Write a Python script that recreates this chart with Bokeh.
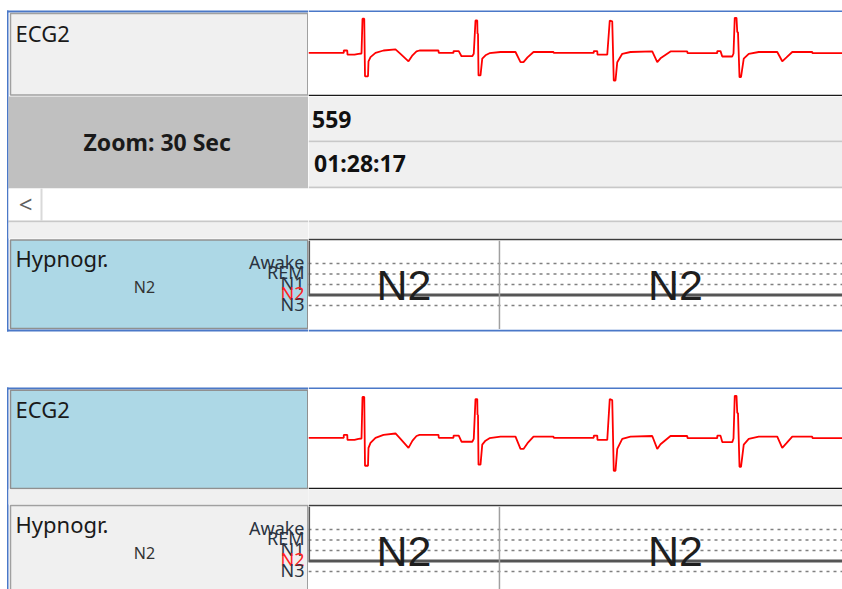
from bokeh.plotting import figure
from bokeh.layouts import row, column
from bokeh.models import Range1d, Span
from bokeh.core.properties import value
from bokeh.embed import file_html
from bokeh.resources import INLINE

# ---------------- data ----------------
channel_name = "ECG2"
hyp_name = "Hypnogr."
zoom_label = "Zoom: 30 Sec"
current_epoch = "559"
current_time = "01:28:17"
current_stage = "N2"

stage_names = ["Awake", "REM", "N1", "N2", "N3"]
stage_values = [4, 3, 2, 1, 0]

epoch_numbers = [558, 559]
epoch_stages = ["N2", "N2"]
epoch_length_s = 30
window_start_s = 16729.45
window_length_s = 30

ecg_time_ms = [
    0, 282, 282, 310, 312, 368, 400, 424, 432, 446, 452, 476, 480, 496, 536, 600, 696, 736, 800, 832, 864, 888, 1040, 1042,
    1160, 1160, 1202, 1224, 1310, 1322, 1336, 1350, 1352, 1356, 1360, 1376, 1390, 1416, 1448, 1536, 1656, 1696, 1720, 1752, 1800, 1960, 1962,
    2282, 2282, 2310, 2312, 2390, 2410, 2430, 2442, 2456, 2470, 2510, 2576, 2750, 2790, 2816, 2896, 3030, 3032,
    3270, 3270, 3296, 3310, 3390, 3400, 3410, 3424, 3430, 3436, 3448, 3460, 3482, 3522, 3602, 3750, 3790, 3824, 3870, 4030, 4032, 4272]
ecg_mv = [
    0, 0, 0.08, 0.08, -0.06, -0.06, -0.03, -0.02, 1.14, 1.14, -0.78, -0.78, -0.28, -0.14, 0.0, 0.08, 0.12, -0.03, -0.28, -0.08, 0.05, 0.08, 0.08, 0.0,
    0, 0.06, 0.06, -0.11, -0.11, -0.03, 1.08, 1.08, 0.64, 0.64, -0.75, -0.75, -0.19, -0.08, -0.01, 0.03, 0.03, -0.31, -0.31, -0.15, 0.03, 0.03, 0,
    0, 0.06, 0.06, -0.06, -0.06, 1.08, 1.05, -0.92, -0.92, -0.31, -0.03, 0.03, 0.05, -0.31, -0.18, 0.05, 0.05, -0.01,
    -0.01, 0.06, 0.06, -0.12, -0.12, -0.02, 1.17, 1.17, 0.69, 0.69, -0.81, -0.81, -0.19, -0.03, 0.03, 0.03, -0.28, -0.15, 0.03, 0.03, -0.01, -0.01]
ecg_view_ms = (0, 4272)
ecg_view_mv = (-1.387, 1.347)

# ---------------- styles ----------------
BLUE = "#4a78c8"
PANEL = "#f0f0f0"
ZOOMGREY = "#c0c0c0"
SEP = "#c8c8c8"
LIGHTBLUE = "#add8e6"
TEXT = "#1a1a1a"
FONT = value("Noto Sans")
TOTAL_W = 842
TOTAL_H = 589
LEFT_W = 308
RIGHT_W = TOTAL_W - LEFT_W
FULL_VIEW_W = 543
STAGE_TOP = 23.0
STAGE_STEP = 10.5
MAXV = max(stage_values)
level = dict(zip(stage_names, stage_values))


def base(w, h, xr, yr, bg="white", border="white", **kw):
    p = figure(width=w, height=h, x_range=Range1d(*xr), y_range=Range1d(*yr),
               toolbar_location=None, output_backend="svg", title=None,
               x_axis_type=None, y_axis_type=None,
               min_border_left=kw.get("l", 0), min_border_right=kw.get("r", 0),
               min_border_top=kw.get("t", 0), min_border_bottom=kw.get("b", 0),
               background_fill_color=bg, border_fill_color=border,
               outline_line_color=None)
    p.grid.visible = False
    return p


def chrome(w, h, bg="white"):
    return base(w, h, (0, w), (h, 0), bg=bg, border=bg)


def txt(p, x, y, s, size, align="left", color=TEXT, style="normal", font=FONT):
    p.text(x=[x], y=[y], text=[s], text_font=font, text_font_size=size,
           text_align=align, text_baseline="middle", text_color=color,
           text_font_style=style)


def box(p, l, r, t, b, fill, line=None, lw=1.5):
    p.quad(left=[l], right=[r], top=[t], bottom=[b], fill_color=fill,
           line_color=line, line_width=lw)


def stage_labels(p, frame_top):
    for name, v in zip(stage_names, stage_values):
        y = frame_top + STAGE_TOP + (MAXV - v) * STAGE_STEP - 1.8
        col = "#ff2020" if name == current_stage else "#2a3340"
        txt(p, 304, y, name, "18px", align="right", color=col)


# ---------------- left column ----------------
L = chrome(LEFT_W, TOTAL_H)
box(L, 6.5, LEFT_W, 10, 12, BLUE)
box(L, 6.5, 8, 10, 331, BLUE)
box(L, 10, 307.25, 13, 94.5, PANEL, "#a0a0a0")
box(L, 8, LEFT_W, 96, 188, ZOOMGREY)
box(L, 8, LEFT_W, 188, 220, "white")
L.segment(x0=[41], y0=[188], x1=[41], y1=[220], line_color="#d9d9d9", line_width=2)
box(L, 8, LEFT_W, 220, 222, SEP)
box(L, 8, LEFT_W, 222, 238, PANEL)
box(L, 10, 307.25, 239.5, 328, LIGHTBLUE, "#909090")
box(L, 6.5, LEFT_W, 329, 331, BLUE)
box(L, 6.5, LEFT_W, 387, 389, BLUE)
box(L, 6.5, 8, 387, TOTAL_H, BLUE)
box(L, 10, 307.25, 389.75, 488, LIGHTBLUE, "#909090")
box(L, 8, LEFT_W, 489, 504, PANEL)
box(L, 10, 307.25, 505, 600, PANEL, "#a0a0a0")

txt(L, 15, 32.5, channel_name, "22px")
txt(L, 156.7, 141, zoom_label, "23px", align="center", style="bold")
txt(L, 25, 203, "<", "24px", align="center", color="#606060")
txt(L, 15, 257, hyp_name, "22px")
txt(L, 144, 286, current_stage, "16px", align="center", color="#333333")
stage_labels(L, 240)
txt(L, 15, 408, channel_name, "22px")
txt(L, 15, 523, hyp_name, "22px")
txt(L, 144, 552, current_stage, "16px", align="center", color="#333333")
stage_labels(L, 506)


# ---------------- right column ----------------
def ecg_fig(h):
    x1 = ecg_view_ms[0] + (ecg_view_ms[1] - ecg_view_ms[0]) * RIGHT_W / 534
    p = base(RIGHT_W, h, (ecg_view_ms[0], x1), ecg_view_mv, bg="white", border="#1a1a1a", b=2)
    p.line(ecg_time_ms, ecg_mv, line_color="#ff0000", line_width=1.8)
    return p


def hyp_fig(h):
    frame_h = h - 2
    top = MAXV + STAGE_TOP / STAGE_STEP
    bottom = MAXV - (frame_h - STAGE_TOP) / STAGE_STEP
    x0 = window_start_s
    x1 = window_start_s + window_length_s * RIGHT_W / FULL_VIEW_W
    p = base(RIGHT_W, h, (x0, x1), (bottom, top), bg="white", border="#3c3c3c", t=2)
    for v in stage_values:
        p.line([x0, x1], [v, v], line_color="#808080", line_width=1.3, line_dash="3 4")
    full_end = window_start_s + window_length_s
    for n in epoch_numbers:
        s = (n - 1) * epoch_length_s
        if x0 < s < full_end:
            p.add_layout(Span(location=s, dimension="height", line_color="#a0a0a0", line_width=1.5))
    xs = [x0]
    ys = [top]
    for n, st in zip(epoch_numbers, epoch_stages):
        s = max((n - 1) * epoch_length_s, x0)
        e = n * epoch_length_s
        xs += [s, e]
        ys += [level[st], level[st]]
    p.line(xs, ys, line_color="#555555", line_width=3.2)
    cy = MAXV - (44.5 - STAGE_TOP) / STAGE_STEP
    for n, st in zip(epoch_numbers, epoch_stages):
        s = max((n - 1) * epoch_length_s, x0)
        e = min(n * epoch_length_s, full_end)
        p.text(x=[(s + e) / 2], y=[cy], text=[st], text_font=value("Liberation Sans"),
               text_font_size="43px", text_align="center", text_baseline="middle",
               text_color="#1e1e1e")
    return p


c1 = chrome(RIGHT_W, 12)
box(c1, 0, RIGHT_W, 10, 12, BLUE)

ecg1 = ecg_fig(84)

c2 = chrome(RIGHT_W, 142)
box(c2, 0, RIGHT_W, 0, 44, PANEL)
box(c2, 0, RIGHT_W, 44, 46, SEP)
box(c2, 0, RIGHT_W, 46, 90, PANEL)
box(c2, 0, RIGHT_W, 90, 92, SEP)
box(c2, 0, RIGHT_W, 92, 124, "white")
box(c2, 0, RIGHT_W, 124, 126, SEP)
box(c2, 0, RIGHT_W, 126, 142, PANEL)
txt(c2, 3.5, 22.8, current_epoch, "23px", style="bold", color="#111111")
txt(c2, 5.5, 66.5, current_time, "23px", style="bold", color="#111111")

hyp1 = hyp_fig(91)

c3 = chrome(RIGHT_W, 60)
box(c3, 0, RIGHT_W, 0, 2, BLUE)
box(c3, 0, RIGHT_W, 58, 60, BLUE)

ecg2 = ecg_fig(100)

c4 = chrome(RIGHT_W, 15, bg=PANEL)
box(c4, 0, RIGHT_W, 0, 15, PANEL)

hyp2 = hyp_fig(85)

right = column(c1, ecg1, c2, hyp1, c3, ecg2, c4, hyp2, spacing=0)
page = row(L, right, spacing=0)

open("out.html", "w").write(file_html(page, INLINE))
